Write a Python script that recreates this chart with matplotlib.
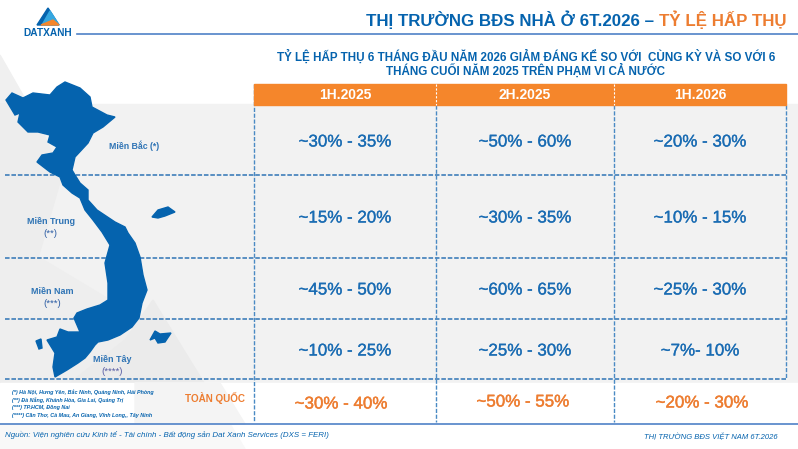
import matplotlib
matplotlib.use('Agg')
import matplotlib.pyplot as plt
import matplotlib.patheffects as pe
from matplotlib.patches import Polygon, Rectangle

plt.rcParams['font.family'] = ['Liberation Sans', 'DejaVu Sans']

BLUE = '#0563ae'
ORANGE = '#f5862b'
LINE = '#4f81c7'
DASH = '#2f74b5'

# table content
periods = ['1H.2025', '2H.2025', '1H.2026']
regions = ['Miền Bắc', 'Miền Trung', 'Miền Nam', 'Miền Tây']
mien_bac = ['~30% - 35%', '~50% - 60%', '~20% - 30%']
mien_trung = ['~15% - 20%', '~30% - 35%', '~10% - 15%']
mien_nam = ['~45% - 50%', '~60% - 65%', '~25% - 30%']
mien_tay = ['~10% - 25%', '~25% - 30%', '~7%- 10%']
toan_quoc = ['~30% - 40%', '~50% - 55%', '~20% - 30%']
notes = ['(*) Hà Nội, Hưng Yên, Bắc Ninh, Quảng Ninh, Hải Phòng',
         '(**) Đà Nẵng, Khánh Hòa, Gia Lai, Quảng Trị',
         '(***) TP.HCM, Đồng Nai',
         '(****) Cần Thơ, Cà Mau, An Giang, Vĩnh Long,, Tây Ninh']

# map outline, in pixels
vietnam = [(6, 100), (12, 93), (23, 98), (33, 93), (50, 95), (57, 87), (65, 82), (80, 88),
           (90, 97), (92, 107), (107, 115), (115, 117), (103, 127), (93, 133), (88, 143),
           (75, 157), (72, 170), (75, 175), (80, 183), (88, 190), (88, 200), (97, 210),
           (115, 222), (125, 227), (128, 233), (135, 243), (140, 257), (143, 275), (147, 290),
           (142, 303), (139, 318), (132, 327), (120, 335), (108, 340), (98, 342), (95, 345),
           (90, 352), (85, 358), (78, 363), (67, 370), (55, 377), (53, 367), (55, 353),
           (47, 340), (57, 337), (60, 329), (68, 332), (80, 332), (74, 318), (77, 313),
           (87, 309), (100, 305), (108, 300), (108, 283), (105, 263), (110, 245), (102, 232),
           (93, 220), (85, 210), (80, 198), (72, 193), (63, 185), (60, 177), (50, 172), (37, 162),
           (42, 155), (53, 153), (57, 147), (48, 142), (50, 135), (38, 132), (28, 132),
           (18, 122), (20, 113), (15, 115)]
islands = [[(152, 217), (158, 210), (168, 207), (175, 212), (165, 216), (158, 218)],
           [(36, 341), (41, 339), (42, 348), (39, 349)],
           [(150, 340), (155, 331), (160, 334), (171, 333), (165, 342), (158, 343), (155, 338)]]

fig = plt.figure(figsize=(7.98, 4.49), dpi=100)
ax = fig.add_axes([0, 0, 1, 1])
ax.set_xlim(0, 798)
ax.set_ylim(449, 0)
ax.axis('off')

# background shapes
ax.add_patch(Rectangle((0, 104), 798, 279, color='#f2f2f2', zorder=0))
ax.add_patch(Polygon([(0, 55), (28, 104), (0, 104)], color='#f0f0f0', zorder=0))
ax.add_patch(Polygon([(0, 104), (30, 104), (62, 175), (38, 258), (0, 260)], color='#ededed', zorder=0))
ax.add_patch(Polygon([(0, 258), (40, 258), (110, 300), (130, 335), (70, 383), (0, 383)], color='#eeeeee', zorder=0))
ax.add_patch(Polygon([(153, 300), (204, 383), (70, 383), (125, 340)], color='#ebebeb', zorder=0))
ax.add_patch(Rectangle((0, 383), 798, 41, color='white', zorder=0.5))
ax.add_patch(Polygon([(135, 383), (220, 383), (245, 424), (135, 424)], color='#f4f4f4', zorder=0.6))
ax.add_patch(Polygon([(0, 424), (230, 424), (245, 449), (0, 449)], color='#f8f8f8', zorder=0.6))

# logo
ax.add_patch(Polygon([(48, 8), (37, 25), (59, 25)], color=BLUE, zorder=2))
ax.add_patch(Polygon([(50, 11), (59, 25), (42, 25)], color='#35a7e0', zorder=2))
ax.add_patch(Polygon([(41, 25), (53, 20), (59, 25)], color=ORANGE, zorder=2))
ax.text(47.5, 32.5, 'DATXANH', color=BLUE, fontsize=7.3, fontweight='bold', ha='center', va='center')

# title
ax.plot([77, 798], [34, 34], color=LINE, lw=1.2)
ax.text(659, 20, 'THỊ TRƯỜNG BĐS NHÀ Ở 6T.2026 – ', color=BLUE, fontsize=12.2, fontweight='bold',
        ha='right', va='center')
ax.text(659, 20, 'TỶ LỆ HẤP THỤ', color='#ed7d31', fontsize=12.2, fontweight='bold', ha='left', va='center')
ax.text(526, 57, 'TỶ LỆ HẤP THỤ 6 THÁNG ĐẦU NĂM 2026 GIẢM ĐÁNG KỂ SO VỚI  CÙNG KỲ VÀ SO VỚI 6',
        color=BLUE, fontsize=8.4, fontweight='bold', ha='center', va='center')
ax.text(526, 71, 'THÁNG CUỐI NĂM 2025 TRÊN PHẠM VI CẢ NƯỚC',
        color=BLUE, fontsize=8.4, fontweight='bold', ha='center', va='center')

# header band
col_edges = [254, 436, 614, 786]
row_edges = [105, 175, 258, 319, 379]
ax.add_patch(Rectangle((254, 84), 532, 21, color=ORANGE, zorder=2))
for i, period in enumerate(periods):
    ax.text((col_edges[i] + col_edges[i + 1]) / 2, 95, period, color='white', fontsize=10, fontweight='bold',
            ha='center', va='center', zorder=3)
    if i > 0:
        ax.plot([col_edges[i]] * 2, [84, 105], color='white', lw=0.8, ls=(0, (2, 1.5)), zorder=3)

# grid
dash = (0, (3, 1.2))
for y in row_edges:
    x0 = 254 if y == 105 else 5
    ax.plot([x0, 786], [y, y], color=DASH, lw=1.1, ls=dash, zorder=1)
for x in col_edges[:3]:
    ax.plot([x, x], [84 if x == 254 else 105, 422], color='#4a8ac4', lw=1, ls=dash, zorder=1)
ax.plot([786, 786], [105, 379], color='#4a8ac4', lw=1, ls=dash, zorder=1)

# cells, with a thin stroke since the original glyphs look heavier
CELL_BLUE = '#1a6cb3'
heavy_blue = [pe.withStroke(linewidth=0.2, foreground=CELL_BLUE)]
heavy_orange = [pe.withStroke(linewidth=0.3, foreground='#ed7d31')]
col_mid = [345, 525, 700]
for row, y in zip([mien_bac, mien_trung, mien_nam, mien_tay], [142, 218, 290, 351]):
    for x, val in zip(col_mid, row):
        ax.text(x, y, val, color=CELL_BLUE, fontsize=12.2, ha='center', va='center', path_effects=heavy_blue)
for x, y, val in zip([341, 523, 702], [404, 402, 403], toan_quoc):
    ax.text(x, y, val, color='#ed7d31', fontsize=12.2, ha='center', va='center', path_effects=heavy_orange)

# map
ax.add_patch(Polygon(vietnam, color=BLUE, zorder=4))
for isl in islands:
    ax.add_patch(Polygon(isl, color=BLUE, zorder=4))

# region names
ax.text(134, 146, regions[0] + ' (*)', color='#2f74b5', fontsize=6.3, fontweight='bold', ha='center', va='center', zorder=5)
ax.text(51, 221, regions[1], color='#2f74b5', fontsize=6.5, fontweight='bold', ha='center', va='center', zorder=5)
ax.text(50, 234, '(**)', color='#2f5fa5', fontsize=6.8, ha='center', va='center', zorder=5)
ax.text(52, 292, regions[2], color='#2f74b5', fontsize=6.5, fontweight='bold', ha='center', va='center', zorder=5)
ax.text(52, 304, '(***)', color='#2f5fa5', fontsize=6.8, ha='center', va='center', zorder=5)
ax.text(112, 359, regions[3], color='#2f74b5', fontsize=6.5, fontweight='bold', ha='center', va='center', zorder=5)
ax.text(112, 371, '(****)', color='#5a5fa5', fontsize=6.8, ha='center', va='center', zorder=5)

# footnotes
for y, note in zip([392, 400, 407, 415], notes):
    ax.text(12, y, note, color=BLUE, fontsize=3.9, style='italic', fontweight='bold', ha='left', va='center', zorder=5)
ax.text(215, 398, 'TOÀN QUỐC', color='#ed7d31', fontsize=7.1, fontweight='bold', ha='center', va='center', zorder=5)

# footer
ax.plot([0, 798], [424, 424], color=LINE, lw=1.2, zorder=5)
ax.text(5, 435, 'Nguồn: Viện nghiên cứu Kinh tế - Tài chính - Bất động sản Dat Xanh Services (DXS = FERI)',
        color=BLUE, fontsize=5.65, style='italic', ha='left', va='center', zorder=5)
ax.text(778, 438, 'THỊ TRƯỜNG BĐS VIỆT NAM 6T.2026', color=BLUE, fontsize=5.5, style='italic',
        ha='right', va='center', zorder=5)

fig.savefig('out.png', dpi=100)
